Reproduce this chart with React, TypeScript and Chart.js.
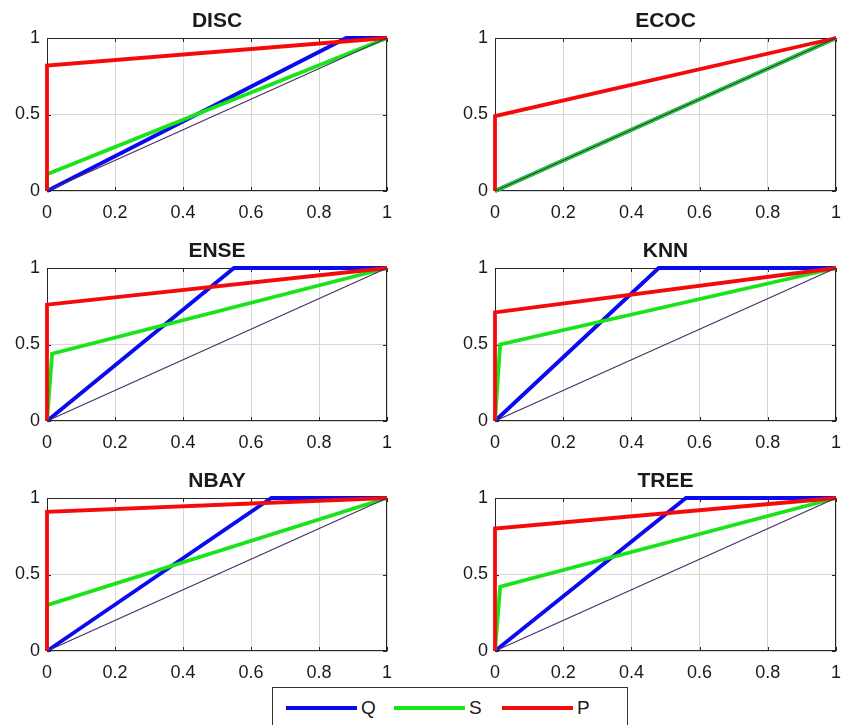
import React, { useEffect, useRef } from "react";
import { Chart, registerables } from "chart.js";

Chart.register(...registerables);

type Pt = [number, number];

// ---- data ----
const panelTitles = ["DISC", "ECOC", "ENSE", "KNN", "NBAY", "TREE"];
const seriesNames = ["Q", "S", "P"];
const seriesColors = ["#0a0af0", "#18e418", "#f50a0a"];
const chanceColor = "#4a2a62";
const xTickValues = [0, 0.2, 0.4, 0.6, 0.8, 1];
const yTickValues = [0, 0.5, 1];
const chanceLine: Pt[] = [[0, 0], [1, 1]];

const discQ: Pt[] = [[0, 0], [0.88, 1], [1, 1]];
const discS: Pt[] = [[0, 0], [0, 0.11], [1, 1]];
const discP: Pt[] = [[0, 0], [0, 0.82], [1, 1]];

const ecocQ: Pt[] = [[0, 0], [1, 1]];
const ecocS: Pt[] = [[0, 0], [1, 1]];
const ecocP: Pt[] = [[0, 0], [0, 0.49], [1, 1]];

const enseQ: Pt[] = [[0, 0], [0.55, 1], [1, 1]];
const enseS: Pt[] = [[0, 0], [0.015, 0.44], [1, 1]];
const enseP: Pt[] = [[0, 0], [0, 0.76], [1, 1]];

const knnQ: Pt[] = [[0, 0], [0.48, 1], [1, 1]];
const knnS: Pt[] = [[0, 0], [0.015, 0.5], [1, 1]];
const knnP: Pt[] = [[0, 0], [0, 0.71], [1, 1]];

const nbayQ: Pt[] = [[0, 0], [0.66, 1], [1, 1]];
const nbayS: Pt[] = [[0, 0], [0, 0.3], [1, 1]];
const nbayP: Pt[] = [[0, 0], [0, 0.91], [1, 1]];

const treeQ: Pt[] = [[0, 0], [0.56, 1], [1, 1]];
const treeS: Pt[] = [[0, 0], [0.015, 0.42], [1, 1]];
const treeP: Pt[] = [[0, 0], [0, 0.8], [1, 1]];

const panelSeries: Pt[][][] = [
  [discQ, discS, discP],
  [ecocQ, ecocS, ecocP],
  [enseQ, enseS, enseP],
  [knnQ, knnS, knnP],
  [nbayQ, nbayS, nbayP],
  [treeQ, treeS, treeP],
];

const FONT = "'Liberation Sans', Arial, Helvetica, sans-serif";
const TEXT = "#1a1a1a";

// Box around the axes with small inward tick marks, plus the centred title.
const axesBox = {
  id: "axesBox",
  beforeDatasetsDraw(chart: any) {
    const { ctx, chartArea: a, scales } = chart;
    ctx.save();
    ctx.strokeStyle = "#262626";
    ctx.lineWidth = 1;
    ctx.strokeRect(a.left + 0.5, a.top + 0.5, a.right - a.left - 1, a.bottom - a.top - 1);
    ctx.beginPath();
    for (const v of xTickValues) {
      const px = Math.round(scales.x.getPixelForValue(v)) + 0.5;
      ctx.moveTo(px, a.bottom);
      ctx.lineTo(px, a.bottom - 4);
      ctx.moveTo(px, a.top);
      ctx.lineTo(px, a.top + 4);
    }
    for (const v of yTickValues) {
      const py = Math.round(scales.y.getPixelForValue(v)) + 0.5;
      ctx.moveTo(a.left, py);
      ctx.lineTo(a.left + 4, py);
      ctx.moveTo(a.right, py);
      ctx.lineTo(a.right - 4, py);
    }
    ctx.stroke();
    ctx.restore();
  },
  afterDraw(chart: any, _args: any, opts: any) {
    const { ctx, chartArea: a } = chart;
    ctx.save();
    ctx.font = `bold 21px ${FONT}`;
    ctx.fillStyle = TEXT;
    ctx.textAlign = "center";
    ctx.textBaseline = "middle";
    ctx.fillText(opts.text || "", (a.left + a.right) / 2, 21);
    ctx.restore();
  },
};

const toXY = (pts: Pt[]) => pts.map(([x, y]) => ({ x, y }));

type PanelProps = {
  title: string;
  series: Pt[][];
  left: number;
  top: number;
  width: number;
  padRight: number;
};

function RocPanel({ title, series, left, top, width, padRight }: PanelProps) {
  const ref = useRef<HTMLCanvasElement>(null);
  const height = 227;

  useEffect(() => {
    const canvas = ref.current;
    if (!canvas) return;
    const lineSet = (pts: Pt[], color: string, w: number) => ({
      data: toXY(pts),
      borderColor: color,
      backgroundColor: color,
      borderWidth: w,
      showLine: true,
      pointRadius: 0,
      fill: false,
      tension: 0,
      clip: 4,
    });
    const chart = new Chart(canvas, {
      type: "scatter",
      data: {
        datasets: [
          { ...lineSet(chanceLine, chanceColor, 1.1), label: "chance" },
          { ...lineSet(series[2], seriesColors[2], 3.8), label: seriesNames[2] },
          { ...lineSet(series[1], seriesColors[1], 3.8), label: seriesNames[1] },
          { ...lineSet(series[0], seriesColors[0], 3.8), label: seriesNames[0] },
        ],
      } as any,
      options: {
        animation: false,
        responsive: false,
        maintainAspectRatio: false,
        events: [],
        layout: { padding: { left: 0, right: padRight, top: 38, bottom: 0 } },
        plugins: {
          legend: { display: false },
          tooltip: { enabled: false },
          title: { display: false },
          axesBox: { text: title },
        } as any,
        scales: {
          x: {
            type: "linear",
            min: 0,
            max: 1,
            afterBuildTicks: (s: any) => {
              s.ticks = xTickValues.map((v) => ({ value: v }));
            },
            afterFit: (s: any) => {
              s.height = 36;
            },
            ticks: {
              color: TEXT,
              font: { family: FONT, size: 18 },
              padding: 11,
              maxRotation: 0,
              autoSkip: false,
              callback: (v: any) => String(v),
            },
            grid: { color: "#d8d8d8", lineWidth: 1, drawTicks: false },
            border: { display: false },
          },
          y: {
            type: "linear",
            min: 0,
            max: 1,
            afterBuildTicks: (s: any) => {
              s.ticks = yTickValues.map((v) => ({ value: v }));
            },
            afterFit: (s: any) => {
              s.width = 47;
            },
            ticks: {
              color: TEXT,
              font: { family: FONT, size: 18 },
              padding: 7,
              autoSkip: false,
              callback: (v: any) => String(v),
            },
            grid: { color: "#d8d8d8", lineWidth: 1, drawTicks: false },
            border: { display: false },
          },
        },
      } as any,
      plugins: [axesBox],
    });
    return () => chart.destroy();
  }, [title, series, padRight]);

  return (
    <canvas
      ref={ref}
      width={width}
      height={height}
      style={{ position: "absolute", left, top, width, height }}
    />
  );
}

function Legend() {
  return (
    <div
      style={{
        position: "absolute",
        left: 272,
        top: 687,
        width: 356,
        height: 44,
        border: "1px solid #333",
        boxSizing: "border-box",
        background: "#fff",
        fontFamily: FONT,
        fontSize: 19,
        color: TEXT,
      }}
    >
      {seriesNames.map((name, i) => (
        <div
          key={name}
          style={{
            position: "absolute",
            left: 13 + i * 108,
            top: 8,
            display: "flex",
            alignItems: "center",
            height: 24,
          }}
        >
          <div style={{ width: 71, height: 4, background: seriesColors[i] }} />
          <span style={{ marginLeft: 4, lineHeight: "24px" }}>{name}</span>
        </div>
      ))}
    </div>
  );
}

export default function App() {
  // The right-hand canvases run past the page edge; the wrapper clips them.
  const cols = [
    { left: 0, width: 412, padRight: 25 },
    { left: 448, width: 413, padRight: 25 },
  ];
  const rowTops = [0, 230, 460];
  return (
    <div
      style={{
        position: "absolute",
        left: 0,
        top: 0,
        width: 847,
        height: 725,
        overflow: "hidden",
        background: "#fff",
      }}
    >
      {panelTitles.map((t, i) => {
        const c = cols[i % 2];
        return (
          <RocPanel
            key={t}
            title={t}
            series={panelSeries[i]}
            left={c.left}
            top={rowTops[Math.floor(i / 2)]}
            width={c.width}
            padRight={c.padRight}
          />
        );
      })}
      <Legend />
    </div>
  );
}
